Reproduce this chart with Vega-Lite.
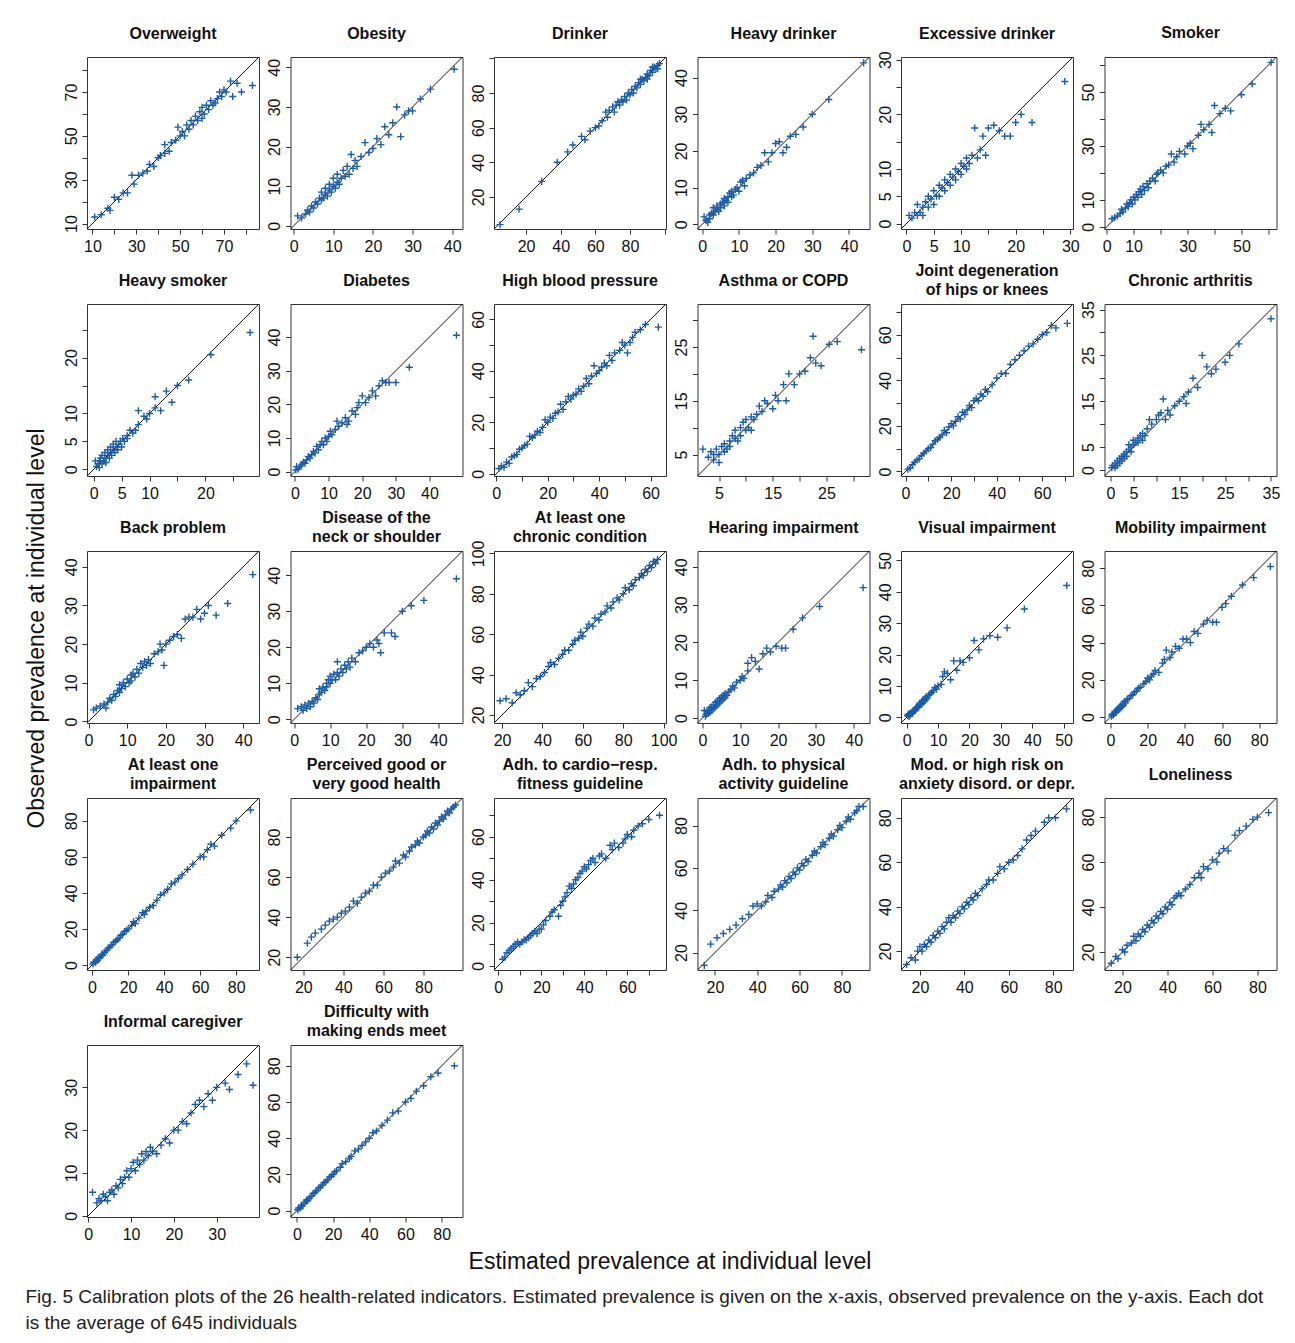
{
"$schema":"https://vega.github.io/schema/vega-lite/v6.json",
"padding":{"left":25,"top":24,"right":0,"bottom":0},
"background":"white",
"title":{"text":["Fig. 5  Calibration plots of the 26 health-related indicators. Estimated prevalence is given on the x-axis, observed prevalence on the y-axis. Each dot","is the average of 645 individuals"],"orient":"bottom","anchor":"start","frame":"bounds","baseline":"top","fontSize":19,"fontWeight":"normal","font":"Liberation Sans","lineHeight":26,"offset":14,"color":"#222"},
"vconcat":[{
"title":{"text":"Estimated prevalence at individual level","orient":"bottom","anchor":"middle","frame":"bounds","baseline":"top","fontSize":23,"fontWeight":"normal","font":"Liberation Sans","offset":8,"dx":17,"color":"#111"},
"hconcat":[{
"title":{"text":"Observed prevalence at individual level","orient":"left","anchor":"middle","frame":"bounds","fontSize":23,"fontWeight":"normal","font":"Liberation Sans","offset":14,"dx":5,"color":"#111"},
"columns":6,"spacing":{"row":75,"column":31.5},"bounds":"flush",
"concat":[
{"title":{"text":"Overweight","offset":-1,"baseline":"bottom"},"layer":[{"data":{"values":[{}]},"mark":{"type":"rule","color":"#111","strokeWidth":1},"encoding":{"x":{"datum":7.5,"type":"quantitative","title":null},"y":{"datum":7.5,"type":"quantitative","title":null},"x2":{"datum":86},"y2":{"datum":86}}},{"data":{"name":"pts"},"transform":[{"filter":"datum.p==1"}],"mark":"point","encoding":{"x":{"field":"x","type":"quantitative","title":null,"scale":{"domain":[7.5,86],"nice":false,"zero":false},"axis":{"tickCount":20,"labelOverlap":false,"values":[10,20,30,40,50,60,70,80],"labelExpr":"indexof([10,30,50,70],datum.value)>=0?datum.label:''"}},"y":{"field":"y","type":"quantitative","title":null,"scale":{"domain":[7.5,86],"nice":false,"zero":false},"axis":{"tickCount":20,"labelOverlap":false,"values":[10,20,30,40,50,60,70,80],"labelExpr":"indexof([10,30,50,70],datum.value)>=0?datum.label:''"}}}}]},
{"title":{"text":"Obesity","offset":-1,"baseline":"bottom"},"layer":[{"data":{"values":[{}]},"mark":{"type":"rule","color":"#111","strokeWidth":1},"encoding":{"x":{"datum":-0.8,"type":"quantitative","title":null},"y":{"datum":-0.8,"type":"quantitative","title":null},"x2":{"datum":42.6},"y2":{"datum":42.6}}},{"data":{"name":"pts"},"transform":[{"filter":"datum.p==2"}],"mark":"point","encoding":{"x":{"field":"x","type":"quantitative","title":null,"scale":{"domain":[-0.8,42.6],"nice":false,"zero":false},"axis":{"tickCount":20,"labelOverlap":false,"values":[0,10,20,30,40]}},"y":{"field":"y","type":"quantitative","title":null,"scale":{"domain":[-0.8,42.6],"nice":false,"zero":false},"axis":{"tickCount":20,"labelOverlap":false,"values":[0,10,20,30,40]}}}}]},
{"title":{"text":"Drinker","offset":-1,"baseline":"bottom"},"layer":[{"data":{"values":[{}]},"mark":{"type":"rule","color":"#111","strokeWidth":1},"encoding":{"x":{"datum":1.5,"type":"quantitative","title":null},"y":{"datum":1.5,"type":"quantitative","title":null},"x2":{"datum":100.8},"y2":{"datum":100.8}}},{"data":{"name":"pts"},"transform":[{"filter":"datum.p==3"}],"mark":"point","encoding":{"x":{"field":"x","type":"quantitative","title":null,"scale":{"domain":[1.5,100.8],"nice":false,"zero":false},"axis":{"tickCount":20,"labelOverlap":false,"values":[20,40,60,80,100],"labelExpr":"datum.value<100?datum.label:''"}},"y":{"field":"y","type":"quantitative","title":null,"scale":{"domain":[1.5,100.8],"nice":false,"zero":false},"axis":{"tickCount":20,"labelOverlap":false,"values":[20,40,60,80,100],"labelExpr":"datum.value<100?datum.label:''"}}}}]},
{"title":{"text":"Heavy drinker","offset":-1,"baseline":"bottom"},"layer":[{"data":{"values":[{}]},"mark":{"type":"rule","color":"#111","strokeWidth":1},"encoding":{"x":{"datum":-1.3,"type":"quantitative","title":null},"y":{"datum":-1.3,"type":"quantitative","title":null},"x2":{"datum":45.6},"y2":{"datum":45.6}}},{"data":{"name":"pts"},"transform":[{"filter":"datum.p==4"}],"mark":"point","encoding":{"x":{"field":"x","type":"quantitative","title":null,"scale":{"domain":[-1.3,45.6],"nice":false,"zero":false},"axis":{"tickCount":20,"labelOverlap":false,"values":[0,10,20,30,40]}},"y":{"field":"y","type":"quantitative","title":null,"scale":{"domain":[-1.3,45.6],"nice":false,"zero":false},"axis":{"tickCount":20,"labelOverlap":false,"values":[0,10,20,30,40]}}}}]},
{"title":{"text":"Excessive drinker","offset":-7.2,"baseline":"bottom"},"layer":[{"data":{"values":[{}]},"mark":{"type":"rule","color":"#111","strokeWidth":1},"encoding":{"x":{"datum":-1,"type":"quantitative","title":null},"y":{"datum":-1,"type":"quantitative","title":null},"x2":{"datum":30.5},"y2":{"datum":30.5}}},{"data":{"name":"pts"},"transform":[{"filter":"datum.p==5"}],"mark":"point","encoding":{"x":{"field":"x","type":"quantitative","title":null,"scale":{"domain":[-1,30.5],"nice":false,"zero":false},"axis":{"tickCount":20,"labelOverlap":false,"values":[0,5,10,15,20,25,30],"labelExpr":"indexof([0,5,10,20,30],datum.value)>=0?datum.label:''"}},"y":{"field":"y","type":"quantitative","title":null,"scale":{"domain":[-1,30.5],"nice":false,"zero":false},"axis":{"tickCount":20,"labelOverlap":false,"values":[0,5,10,15,20,25,30],"labelExpr":"indexof([0,5,10,20,30],datum.value)>=0?datum.label:''"}}}}]},
{"title":{"text":"Smoker","offset":-1,"baseline":"bottom"},"layer":[{"data":{"values":[{}]},"mark":{"type":"rule","color":"#111","strokeWidth":1},"encoding":{"x":{"datum":-0.8,"type":"quantitative","title":null},"y":{"datum":-0.8,"type":"quantitative","title":null},"x2":{"datum":63},"y2":{"datum":63}}},{"data":{"name":"pts"},"transform":[{"filter":"datum.p==6"}],"mark":"point","encoding":{"x":{"field":"x","type":"quantitative","title":null,"scale":{"domain":[-0.8,63],"nice":false,"zero":false},"axis":{"tickCount":20,"labelOverlap":false,"values":[0,10,20,30,40,50,60],"labelExpr":"indexof([0,10,30,50],datum.value)>=0?datum.label:''"}},"y":{"field":"y","type":"quantitative","title":null,"scale":{"domain":[-0.8,63],"nice":false,"zero":false},"axis":{"tickCount":20,"labelOverlap":false,"values":[0,10,20,30,40,50,60],"labelExpr":"indexof([0,10,30,50],datum.value)>=0?datum.label:''"}}}}]},
{"title":{"text":"Heavy smoker","offset":-1,"baseline":"bottom"},"layer":[{"data":{"values":[{}]},"mark":{"type":"rule","color":"#111","strokeWidth":1},"encoding":{"x":{"datum":-1.2,"type":"quantitative","title":null},"y":{"datum":-1.2,"type":"quantitative","title":null},"x2":{"datum":29.6},"y2":{"datum":29.6}}},{"data":{"name":"pts"},"transform":[{"filter":"datum.p==7"}],"mark":"point","encoding":{"x":{"field":"x","type":"quantitative","title":null,"scale":{"domain":[-1.2,29.6],"nice":false,"zero":false},"axis":{"tickCount":20,"labelOverlap":false,"values":[0,5,10,15,20,25],"labelExpr":"indexof([0,5,10,20],datum.value)>=0?datum.label:''"}},"y":{"field":"y","type":"quantitative","title":null,"scale":{"domain":[-1.2,29.6],"nice":false,"zero":false},"axis":{"tickCount":20,"labelOverlap":false,"values":[0,5,10,15,20,25],"labelExpr":"indexof([0,5,10,20],datum.value)>=0?datum.label:''"}}}}]},
{"title":{"text":"Diabetes","offset":-1,"baseline":"bottom"},"layer":[{"data":{"values":[{}]},"mark":{"type":"rule","color":"#111","strokeWidth":1},"encoding":{"x":{"datum":-1.3,"type":"quantitative","title":null},"y":{"datum":-1.3,"type":"quantitative","title":null},"x2":{"datum":49.8},"y2":{"datum":49.8}}},{"data":{"name":"pts"},"transform":[{"filter":"datum.p==8"}],"mark":"point","encoding":{"x":{"field":"x","type":"quantitative","title":null,"scale":{"domain":[-1.3,49.8],"nice":false,"zero":false},"axis":{"tickCount":20,"labelOverlap":false,"values":[0,10,20,30,40]}},"y":{"field":"y","type":"quantitative","title":null,"scale":{"domain":[-1.3,49.8],"nice":false,"zero":false},"axis":{"tickCount":20,"labelOverlap":false,"values":[0,10,20,30,40]}}}}]},
{"title":{"text":"High blood pressure","offset":-1,"baseline":"bottom"},"layer":[{"data":{"values":[{}]},"mark":{"type":"rule","color":"#111","strokeWidth":1},"encoding":{"x":{"datum":-0.9,"type":"quantitative","title":null},"y":{"datum":-0.9,"type":"quantitative","title":null},"x2":{"datum":66},"y2":{"datum":66}}},{"data":{"name":"pts"},"transform":[{"filter":"datum.p==9"}],"mark":"point","encoding":{"x":{"field":"x","type":"quantitative","title":null,"scale":{"domain":[-0.9,66],"nice":false,"zero":false},"axis":{"tickCount":20,"labelOverlap":false,"values":[0,10,20,30,40,50,60],"labelExpr":"indexof([0,20,40,60],datum.value)>=0?datum.label:''"}},"y":{"field":"y","type":"quantitative","title":null,"scale":{"domain":[-0.9,66],"nice":false,"zero":false},"axis":{"tickCount":20,"labelOverlap":false,"values":[0,10,20,30,40,50,60],"labelExpr":"indexof([0,20,40,60],datum.value)>=0?datum.label:''"}}}}]},
{"title":{"text":"Asthma or COPD","offset":-1,"baseline":"bottom"},"layer":[{"data":{"values":[{}]},"mark":{"type":"rule","color":"#111","strokeWidth":1},"encoding":{"x":{"datum":1,"type":"quantitative","title":null},"y":{"datum":1,"type":"quantitative","title":null},"x2":{"datum":33},"y2":{"datum":33}}},{"data":{"name":"pts"},"transform":[{"filter":"datum.p==10"}],"mark":"point","encoding":{"x":{"field":"x","type":"quantitative","title":null,"scale":{"domain":[1,33],"nice":false,"zero":false},"axis":{"tickCount":20,"labelOverlap":false,"values":[5,10,15,20,25,30],"labelExpr":"indexof([5,15,25],datum.value)>=0?datum.label:''"}},"y":{"field":"y","type":"quantitative","title":null,"scale":{"domain":[1,33],"nice":false,"zero":false},"axis":{"tickCount":20,"labelOverlap":false,"values":[5,10,15,20,25,30],"labelExpr":"indexof([5,15,25],datum.value)>=0?datum.label:''"}}}}]},
{"title":{"text":["Joint degeneration","of hips or knees"],"offset":-10,"baseline":"bottom"},"layer":[{"data":{"values":[{}]},"mark":{"type":"rule","color":"#111","strokeWidth":1},"encoding":{"x":{"datum":-2,"type":"quantitative","title":null},"y":{"datum":-2,"type":"quantitative","title":null},"x2":{"datum":73.5},"y2":{"datum":73.5}}},{"data":{"name":"pts"},"transform":[{"filter":"datum.p==11"}],"mark":"point","encoding":{"x":{"field":"x","type":"quantitative","title":null,"scale":{"domain":[-2,73.5],"nice":false,"zero":false},"axis":{"tickCount":20,"labelOverlap":false,"values":[0,10,20,30,40,50,60,70],"labelExpr":"indexof([0,20,40,60],datum.value)>=0?datum.label:''"}},"y":{"field":"y","type":"quantitative","title":null,"scale":{"domain":[-2,73.5],"nice":false,"zero":false},"axis":{"tickCount":20,"labelOverlap":false,"values":[0,10,20,30,40,50,60,70],"labelExpr":"indexof([0,20,40,60],datum.value)>=0?datum.label:''"}}}}]},
{"title":{"text":"Chronic arthritis","offset":-4.4,"baseline":"bottom"},"layer":[{"data":{"values":[{}]},"mark":{"type":"rule","color":"#111","strokeWidth":1},"encoding":{"x":{"datum":-1.3,"type":"quantitative","title":null},"y":{"datum":-1.3,"type":"quantitative","title":null},"x2":{"datum":36.2},"y2":{"datum":36.2}}},{"data":{"name":"pts"},"transform":[{"filter":"datum.p==12"}],"mark":"point","encoding":{"x":{"field":"x","type":"quantitative","title":null,"scale":{"domain":[-1.3,36.2],"nice":false,"zero":false},"axis":{"tickCount":20,"labelOverlap":false,"values":[0,5,10,15,20,25,30,35],"labelExpr":"indexof([0,5,15,25,35],datum.value)>=0?datum.label:''"}},"y":{"field":"y","type":"quantitative","title":null,"scale":{"domain":[-1.3,36.2],"nice":false,"zero":false},"axis":{"tickCount":20,"labelOverlap":false,"values":[0,5,10,15,20,25,30,35],"labelExpr":"indexof([0,5,15,25,35],datum.value)>=0?datum.label:''"}}}}]},
{"title":{"text":"Back problem","offset":-1,"baseline":"bottom"},"layer":[{"data":{"values":[{}]},"mark":{"type":"rule","color":"#111","strokeWidth":1},"encoding":{"x":{"datum":-0.4,"type":"quantitative","title":null},"y":{"datum":-0.4,"type":"quantitative","title":null},"x2":{"datum":44.1},"y2":{"datum":44.1}}},{"data":{"name":"pts"},"transform":[{"filter":"datum.p==13"}],"mark":"point","encoding":{"x":{"field":"x","type":"quantitative","title":null,"scale":{"domain":[-0.4,44.1],"nice":false,"zero":false},"axis":{"tickCount":20,"labelOverlap":false,"values":[0,10,20,30,40]}},"y":{"field":"y","type":"quantitative","title":null,"scale":{"domain":[-0.4,44.1],"nice":false,"zero":false},"axis":{"tickCount":20,"labelOverlap":false,"values":[0,10,20,30,40]}}}}]},
{"title":{"text":["Disease of the","neck or shoulder"],"offset":-10,"baseline":"bottom"},"layer":[{"data":{"values":[{}]},"mark":{"type":"rule","color":"#111","strokeWidth":1},"encoding":{"x":{"datum":-1,"type":"quantitative","title":null},"y":{"datum":-1,"type":"quantitative","title":null},"x2":{"datum":46.7},"y2":{"datum":46.7}}},{"data":{"name":"pts"},"transform":[{"filter":"datum.p==14"}],"mark":"point","encoding":{"x":{"field":"x","type":"quantitative","title":null,"scale":{"domain":[-1,46.7],"nice":false,"zero":false},"axis":{"tickCount":20,"labelOverlap":false,"values":[0,10,20,30,40]}},"y":{"field":"y","type":"quantitative","title":null,"scale":{"domain":[-1,46.7],"nice":false,"zero":false},"axis":{"tickCount":20,"labelOverlap":false,"values":[0,10,20,30,40]}}}}]},
{"title":{"text":["At least one","chronic condition"],"offset":-20.9,"baseline":"bottom"},"layer":[{"data":{"values":[{}]},"mark":{"type":"rule","color":"#111","strokeWidth":1},"encoding":{"x":{"datum":16,"type":"quantitative","title":null},"y":{"datum":16,"type":"quantitative","title":null},"x2":{"datum":101.2},"y2":{"datum":101.2}}},{"data":{"name":"pts"},"transform":[{"filter":"datum.p==15"}],"mark":"point","encoding":{"x":{"field":"x","type":"quantitative","title":null,"scale":{"domain":[16,101.2],"nice":false,"zero":false},"axis":{"tickCount":20,"labelOverlap":false,"values":[20,40,60,80,100]}},"y":{"field":"y","type":"quantitative","title":null,"scale":{"domain":[16,101.2],"nice":false,"zero":false},"axis":{"tickCount":20,"labelOverlap":false,"values":[20,40,60,80,100]}}}}]},
{"title":{"text":"Hearing impairment","offset":-1,"baseline":"bottom"},"layer":[{"data":{"values":[{}]},"mark":{"type":"rule","color":"#111","strokeWidth":1},"encoding":{"x":{"datum":-1.3,"type":"quantitative","title":null},"y":{"datum":-1.3,"type":"quantitative","title":null},"x2":{"datum":44.2},"y2":{"datum":44.2}}},{"data":{"name":"pts"},"transform":[{"filter":"datum.p==16"}],"mark":"point","encoding":{"x":{"field":"x","type":"quantitative","title":null,"scale":{"domain":[-1.3,44.2],"nice":false,"zero":false},"axis":{"tickCount":20,"labelOverlap":false,"values":[0,10,20,30,40]}},"y":{"field":"y","type":"quantitative","title":null,"scale":{"domain":[-1.3,44.2],"nice":false,"zero":false},"axis":{"tickCount":20,"labelOverlap":false,"values":[0,10,20,30,40]}}}}]},
{"title":{"text":"Visual impairment","offset":-1,"baseline":"bottom"},"layer":[{"data":{"values":[{}]},"mark":{"type":"rule","color":"#111","strokeWidth":1},"encoding":{"x":{"datum":-1.8,"type":"quantitative","title":null},"y":{"datum":-1.8,"type":"quantitative","title":null},"x2":{"datum":53},"y2":{"datum":53}}},{"data":{"name":"pts"},"transform":[{"filter":"datum.p==17"}],"mark":"point","encoding":{"x":{"field":"x","type":"quantitative","title":null,"scale":{"domain":[-1.8,53],"nice":false,"zero":false},"axis":{"tickCount":20,"labelOverlap":false,"values":[0,10,20,30,40,50]}},"y":{"field":"y","type":"quantitative","title":null,"scale":{"domain":[-1.8,53],"nice":false,"zero":false},"axis":{"tickCount":20,"labelOverlap":false,"values":[0,10,20,30,40,50]}}}}]},
{"title":{"text":"Mobility impairment","offset":-1,"baseline":"bottom"},"layer":[{"data":{"values":[{}]},"mark":{"type":"rule","color":"#111","strokeWidth":1},"encoding":{"x":{"datum":-3.2,"type":"quantitative","title":null},"y":{"datum":-3.2,"type":"quantitative","title":null},"x2":{"datum":89.3},"y2":{"datum":89.3}}},{"data":{"name":"pts"},"transform":[{"filter":"datum.p==18"}],"mark":"point","encoding":{"x":{"field":"x","type":"quantitative","title":null,"scale":{"domain":[-3.2,89.3],"nice":false,"zero":false},"axis":{"tickCount":20,"labelOverlap":false,"values":[0,20,40,60,80]}},"y":{"field":"y","type":"quantitative","title":null,"scale":{"domain":[-3.2,89.3],"nice":false,"zero":false},"axis":{"tickCount":20,"labelOverlap":false,"values":[0,20,40,60,80]}}}}]},
{"title":{"text":["At least one","impairment"],"offset":-10,"baseline":"bottom"},"layer":[{"data":{"values":[{}]},"mark":{"type":"rule","color":"#111","strokeWidth":1},"encoding":{"x":{"datum":-2.8,"type":"quantitative","title":null},"y":{"datum":-2.8,"type":"quantitative","title":null},"x2":{"datum":92.7},"y2":{"datum":92.7}}},{"data":{"name":"pts"},"transform":[{"filter":"datum.p==19"}],"mark":"point","encoding":{"x":{"field":"x","type":"quantitative","title":null,"scale":{"domain":[-2.8,92.7],"nice":false,"zero":false},"axis":{"tickCount":20,"labelOverlap":false,"values":[0,20,40,60,80]}},"y":{"field":"y","type":"quantitative","title":null,"scale":{"domain":[-2.8,92.7],"nice":false,"zero":false},"axis":{"tickCount":20,"labelOverlap":false,"values":[0,20,40,60,80]}}}}]},
{"title":{"text":["Perceived good or","very good health"],"offset":-10,"baseline":"bottom"},"layer":[{"data":{"values":[{}]},"mark":{"type":"rule","color":"#111","strokeWidth":1},"encoding":{"x":{"datum":13.6,"type":"quantitative","title":null},"y":{"datum":13.6,"type":"quantitative","title":null},"x2":{"datum":99.5},"y2":{"datum":99.5}}},{"data":{"name":"pts"},"transform":[{"filter":"datum.p==20"}],"mark":"point","encoding":{"x":{"field":"x","type":"quantitative","title":null,"scale":{"domain":[13.6,99.5],"nice":false,"zero":false},"axis":{"tickCount":20,"labelOverlap":false,"values":[20,40,60,80]}},"y":{"field":"y","type":"quantitative","title":null,"scale":{"domain":[13.6,99.5],"nice":false,"zero":false},"axis":{"tickCount":20,"labelOverlap":false,"values":[20,40,60,80]}}}}]},
{"title":{"text":["Adh. to cardio−resp.","fitness guideline"],"offset":-10,"baseline":"bottom"},"layer":[{"data":{"values":[{}]},"mark":{"type":"rule","color":"#111","strokeWidth":1},"encoding":{"x":{"datum":-2,"type":"quantitative","title":null},"y":{"datum":-2,"type":"quantitative","title":null},"x2":{"datum":78},"y2":{"datum":78}}},{"data":{"name":"pts"},"transform":[{"filter":"datum.p==21"}],"mark":"point","encoding":{"x":{"field":"x","type":"quantitative","title":null,"scale":{"domain":[-2,78],"nice":false,"zero":false},"axis":{"tickCount":20,"labelOverlap":false,"values":[0,10,20,30,40,50,60,70],"labelExpr":"indexof([0,20,40,60],datum.value)>=0?datum.label:''"}},"y":{"field":"y","type":"quantitative","title":null,"scale":{"domain":[-2,78],"nice":false,"zero":false},"axis":{"tickCount":20,"labelOverlap":false,"values":[0,10,20,30,40,50,60,70],"labelExpr":"indexof([0,20,40,60],datum.value)>=0?datum.label:''"}}}}]},
{"title":{"text":["Adh. to physical","activity guideline"],"offset":-10,"baseline":"bottom"},"layer":[{"data":{"values":[{}]},"mark":{"type":"rule","color":"#111","strokeWidth":1},"encoding":{"x":{"datum":11.8,"type":"quantitative","title":null},"y":{"datum":11.8,"type":"quantitative","title":null},"x2":{"datum":93},"y2":{"datum":93}}},{"data":{"name":"pts"},"transform":[{"filter":"datum.p==22"}],"mark":"point","encoding":{"x":{"field":"x","type":"quantitative","title":null,"scale":{"domain":[11.8,93],"nice":false,"zero":false},"axis":{"tickCount":20,"labelOverlap":false,"values":[20,40,60,80]}},"y":{"field":"y","type":"quantitative","title":null,"scale":{"domain":[11.8,93],"nice":false,"zero":false},"axis":{"tickCount":20,"labelOverlap":false,"values":[20,40,60,80]}}}}]},
{"title":{"text":["Mod. or high risk on","anxiety disord. or depr."],"offset":-10,"baseline":"bottom"},"layer":[{"data":{"values":[{}]},"mark":{"type":"rule","color":"#111","strokeWidth":1},"encoding":{"x":{"datum":11.5,"type":"quantitative","title":null},"y":{"datum":11.5,"type":"quantitative","title":null},"x2":{"datum":88.9},"y2":{"datum":88.9}}},{"data":{"name":"pts"},"transform":[{"filter":"datum.p==23"}],"mark":"point","encoding":{"x":{"field":"x","type":"quantitative","title":null,"scale":{"domain":[11.5,88.9],"nice":false,"zero":false},"axis":{"tickCount":20,"labelOverlap":false,"values":[20,40,60,80]}},"y":{"field":"y","type":"quantitative","title":null,"scale":{"domain":[11.5,88.9],"nice":false,"zero":false},"axis":{"tickCount":20,"labelOverlap":false,"values":[20,40,60,80]}}}}]},
{"title":{"text":"Loneliness","offset":-1,"baseline":"bottom"},"layer":[{"data":{"values":[{}]},"mark":{"type":"rule","color":"#111","strokeWidth":1},"encoding":{"x":{"datum":12,"type":"quantitative","title":null},"y":{"datum":12,"type":"quantitative","title":null},"x2":{"datum":88.5},"y2":{"datum":88.5}}},{"data":{"name":"pts"},"transform":[{"filter":"datum.p==24"}],"mark":"point","encoding":{"x":{"field":"x","type":"quantitative","title":null,"scale":{"domain":[12,88.5],"nice":false,"zero":false},"axis":{"tickCount":20,"labelOverlap":false,"values":[20,40,60,80]}},"y":{"field":"y","type":"quantitative","title":null,"scale":{"domain":[12,88.5],"nice":false,"zero":false},"axis":{"tickCount":20,"labelOverlap":false,"values":[20,40,60,80]}}}}]},
{"title":{"text":"Informal caregiver","offset":-1,"baseline":"bottom"},"layer":[{"data":{"values":[{}]},"mark":{"type":"rule","color":"#111","strokeWidth":1},"encoding":{"x":{"datum":-0.3,"type":"quantitative","title":null},"y":{"datum":-0.3,"type":"quantitative","title":null},"x2":{"datum":39.9},"y2":{"datum":39.9}}},{"data":{"name":"pts"},"transform":[{"filter":"datum.p==25"}],"mark":"point","encoding":{"x":{"field":"x","type":"quantitative","title":null,"scale":{"domain":[-0.3,39.9],"nice":false,"zero":false},"axis":{"tickCount":20,"labelOverlap":false,"values":[0,10,20,30]}},"y":{"field":"y","type":"quantitative","title":null,"scale":{"domain":[-0.3,39.9],"nice":false,"zero":false},"axis":{"tickCount":20,"labelOverlap":false,"values":[0,10,20,30]}}}}]},
{"title":{"text":["Difficulty with","making ends meet"],"offset":-10,"baseline":"bottom"},"layer":[{"data":{"values":[{}]},"mark":{"type":"rule","color":"#111","strokeWidth":1},"encoding":{"x":{"datum":-3.5,"type":"quantitative","title":null},"y":{"datum":-3.5,"type":"quantitative","title":null},"x2":{"datum":91.5},"y2":{"datum":91.5}}},{"data":{"name":"pts"},"transform":[{"filter":"datum.p==26"}],"mark":"point","encoding":{"x":{"field":"x","type":"quantitative","title":null,"scale":{"domain":[-3.5,91.5],"nice":false,"zero":false},"axis":{"tickCount":20,"labelOverlap":false,"values":[0,20,40,60,80]}},"y":{"field":"y","type":"quantitative","title":null,"scale":{"domain":[-3.5,91.5],"nice":false,"zero":false},"axis":{"tickCount":20,"labelOverlap":false,"values":[0,20,40,60,80]}}}}]}
]
}]
}],
"datasets":{"pts":[
{"p":1,"x":11,"y":13},{"p":1,"x":14,"y":14},{"p":1,"x":17,"y":17},{"p":1,"x":18,"y":16},{"p":1,"x":20,"y":22},{"p":1,"x":22,"y":21},{"p":1,"x":24,"y":24},{"p":1,"x":26,"y":24},{"p":1,"x":28,"y":32},{"p":1,"x":29,"y":28},{"p":1,"x":31,"y":32},{"p":1,"x":33,"y":33},{"p":1,"x":35,"y":34},{"p":1,"x":36,"y":37},{"p":1,"x":38,"y":36},{"p":1,"x":40,"y":40},{"p":1,"x":41,"y":41},{"p":1,"x":43,"y":42},{"p":1,"x":43,"y":46},{"p":1,"x":45,"y":43},{"p":1,"x":46,"y":47},{"p":1,"x":48,"y":48},{"p":1,"x":49,"y":54},{"p":1,"x":50,"y":50},{"p":1,"x":51,"y":52},{"p":1,"x":52,"y":50},{"p":1,"x":53,"y":55},{"p":1,"x":54,"y":53},{"p":1,"x":55,"y":57},{"p":1,"x":56,"y":55},{"p":1,"x":57,"y":59},{"p":1,"x":58,"y":57},{"p":1,"x":59,"y":61},{"p":1,"x":60,"y":58},{"p":1,"x":60,"y":63},{"p":1,"x":61,"y":60},{"p":1,"x":62,"y":64},{"p":1,"x":63,"y":62},{"p":1,"x":64,"y":66},{"p":1,"x":65,"y":64},{"p":1,"x":66,"y":65},{"p":1,"x":67,"y":67},{"p":1,"x":68,"y":70},{"p":1,"x":69,"y":68},{"p":1,"x":70,"y":71},{"p":1,"x":71,"y":70},{"p":1,"x":73,"y":75},{"p":1,"x":74,"y":68},{"p":1,"x":76,"y":74},{"p":1,"x":78,"y":70},{"p":1,"x":83,"y":73},
{"p":2,"x":1,"y":2.5},{"p":2,"x":2,"y":2},{"p":2,"x":3,"y":3},{"p":2,"x":3.5,"y":4},{"p":2,"x":4,"y":3.5},{"p":2,"x":4.5,"y":5},{"p":2,"x":5,"y":4.5},{"p":2,"x":5.5,"y":6},{"p":2,"x":6,"y":5.5},{"p":2,"x":6.5,"y":7},{"p":2,"x":7,"y":6.5},{"p":2,"x":7,"y":8.5},{"p":2,"x":7.5,"y":7},{"p":2,"x":8,"y":8},{"p":2,"x":8,"y":9.5},{"p":2,"x":8.5,"y":7.5},{"p":2,"x":9,"y":9},{"p":2,"x":9,"y":10.5},{"p":2,"x":9.5,"y":8.5},{"p":2,"x":10,"y":10},{"p":2,"x":10,"y":12},{"p":2,"x":10.5,"y":9.5},{"p":2,"x":11,"y":11},{"p":2,"x":11,"y":13},{"p":2,"x":11.5,"y":10.5},{"p":2,"x":12,"y":12},{"p":2,"x":12.5,"y":14},{"p":2,"x":13,"y":12.5},{"p":2,"x":13.5,"y":15},{"p":2,"x":14,"y":13},{"p":2,"x":14.5,"y":18},{"p":2,"x":15,"y":14.5},{"p":2,"x":15.5,"y":16.5},{"p":2,"x":16,"y":15},{"p":2,"x":17,"y":17.5},{"p":2,"x":18,"y":21},{"p":2,"x":19,"y":18.5},{"p":2,"x":20,"y":19.5},{"p":2,"x":21,"y":22},{"p":2,"x":22,"y":20.5},{"p":2,"x":23,"y":25},{"p":2,"x":24,"y":23},{"p":2,"x":25,"y":26},{"p":2,"x":26,"y":30},{"p":2,"x":27,"y":22.5},{"p":2,"x":28,"y":28},{"p":2,"x":29,"y":29},{"p":2,"x":30,"y":29},{"p":2,"x":32,"y":32},{"p":2,"x":34.5,"y":34.5},{"p":2,"x":40.5,"y":39.5},
{"p":3,"x":5,"y":4},{"p":3,"x":16,"y":13},{"p":3,"x":29,"y":29},{"p":3,"x":38,"y":40},{"p":3,"x":44,"y":46},{"p":3,"x":47,"y":50},{"p":3,"x":52,"y":55},{"p":3,"x":54,"y":53},{"p":3,"x":57,"y":58},{"p":3,"x":60,"y":60},{"p":3,"x":62,"y":61},{"p":3,"x":64,"y":64},{"p":3,"x":66,"y":69},{"p":3,"x":67,"y":66},{"p":3,"x":68,"y":70},{"p":3,"x":70,"y":72},{"p":3,"x":71,"y":69},{"p":3,"x":72,"y":73},{"p":3,"x":73,"y":75},{"p":3,"x":74,"y":73},{"p":3,"x":75,"y":76},{"p":3,"x":76,"y":75},{"p":3,"x":77,"y":78},{"p":3,"x":78,"y":76},{"p":3,"x":79,"y":80},{"p":3,"x":80,"y":79},{"p":3,"x":81,"y":82},{"p":3,"x":82,"y":80},{"p":3,"x":83,"y":84},{"p":3,"x":84,"y":83},{"p":3,"x":85,"y":86},{"p":3,"x":86,"y":85},{"p":3,"x":87,"y":88},{"p":3,"x":88,"y":87},{"p":3,"x":89,"y":89},{"p":3,"x":90,"y":91},{"p":3,"x":91,"y":90},{"p":3,"x":92,"y":93},{"p":3,"x":93,"y":92},{"p":3,"x":94,"y":95},{"p":3,"x":95,"y":94},{"p":3,"x":96,"y":96},{"p":3,"x":97,"y":97},{"p":3,"x":96,"y":94},{"p":3,"x":93,"y":95},{"p":3,"x":90,"y":88},{"p":3,"x":86,"y":88},
{"p":4,"x":0.5,"y":2},{"p":4,"x":1,"y":1},{"p":4,"x":1.5,"y":0.5},{"p":4,"x":2,"y":2.5},{"p":4,"x":2,"y":1.5},{"p":4,"x":2.5,"y":3},{"p":4,"x":3,"y":2.5},{"p":4,"x":3,"y":4.5},{"p":4,"x":3.5,"y":3.5},{"p":4,"x":4,"y":4},{"p":4,"x":4,"y":5},{"p":4,"x":4.5,"y":3.5},{"p":4,"x":5,"y":5.5},{"p":4,"x":5,"y":4.5},{"p":4,"x":5.5,"y":6},{"p":4,"x":6,"y":5},{"p":4,"x":6,"y":7},{"p":4,"x":6.5,"y":6.5},{"p":4,"x":7,"y":7.5},{"p":4,"x":7,"y":6},{"p":4,"x":7.5,"y":8.5},{"p":4,"x":8,"y":7.5},{"p":4,"x":8,"y":9},{"p":4,"x":8.5,"y":8},{"p":4,"x":9,"y":9.5},{"p":4,"x":9.5,"y":10},{"p":4,"x":10,"y":9},{"p":4,"x":10.5,"y":11.5},{"p":4,"x":11,"y":12},{"p":4,"x":11.5,"y":10.5},{"p":4,"x":12,"y":12.5},{"p":4,"x":13,"y":13.5},{"p":4,"x":14,"y":14},{"p":4,"x":15,"y":15.5},{"p":4,"x":16,"y":16},{"p":4,"x":17,"y":19.5},{"p":4,"x":18,"y":17},{"p":4,"x":19,"y":19.5},{"p":4,"x":20,"y":22},{"p":4,"x":21,"y":22.5},{"p":4,"x":22,"y":19.5},{"p":4,"x":23,"y":21},{"p":4,"x":24,"y":24},{"p":4,"x":25.5,"y":24.5},{"p":4,"x":27.5,"y":26.5},{"p":4,"x":30,"y":30},{"p":4,"x":34.5,"y":34},{"p":4,"x":44,"y":44},
{"p":5,"x":0.5,"y":1.5},{"p":5,"x":1,"y":1},{"p":5,"x":1.5,"y":2},{"p":5,"x":2,"y":1.5},{"p":5,"x":2,"y":3.5},{"p":5,"x":2.5,"y":2},{"p":5,"x":3,"y":3},{"p":5,"x":3,"y":1.5},{"p":5,"x":3.5,"y":4},{"p":5,"x":4,"y":3},{"p":5,"x":4,"y":5},{"p":5,"x":4.5,"y":4.5},{"p":5,"x":5,"y":6},{"p":5,"x":5,"y":3.5},{"p":5,"x":5.5,"y":5},{"p":5,"x":6,"y":7},{"p":5,"x":6,"y":5},{"p":5,"x":6.5,"y":6.5},{"p":5,"x":7,"y":8},{"p":5,"x":7,"y":6},{"p":5,"x":7.5,"y":7.5},{"p":5,"x":8,"y":9},{"p":5,"x":8,"y":7},{"p":5,"x":8.5,"y":8.5},{"p":5,"x":9,"y":10},{"p":5,"x":9,"y":8},{"p":5,"x":9.5,"y":9.5},{"p":5,"x":10,"y":11},{"p":5,"x":10,"y":9},{"p":5,"x":10.5,"y":10.5},{"p":5,"x":11,"y":12},{"p":5,"x":11,"y":10},{"p":5,"x":11.5,"y":11},{"p":5,"x":12,"y":12.5},{"p":5,"x":12.5,"y":17.5},{"p":5,"x":13,"y":12},{"p":5,"x":13.5,"y":13.5},{"p":5,"x":14,"y":16},{"p":5,"x":14.5,"y":12.5},{"p":5,"x":15,"y":17.5},{"p":5,"x":16,"y":18},{"p":5,"x":17,"y":17},{"p":5,"x":18,"y":16},{"p":5,"x":19,"y":16},{"p":5,"x":20,"y":18.5},{"p":5,"x":21,"y":20},{"p":5,"x":23,"y":18.5},{"p":5,"x":29,"y":26},
{"p":6,"x":2,"y":3},{"p":6,"x":3,"y":3.5},{"p":6,"x":4,"y":4},{"p":6,"x":5,"y":5},{"p":6,"x":5.5,"y":6.5},{"p":6,"x":6,"y":5.5},{"p":6,"x":7,"y":7},{"p":6,"x":7.5,"y":8.5},{"p":6,"x":8,"y":7.5},{"p":6,"x":8.5,"y":9},{"p":6,"x":9,"y":10},{"p":6,"x":9.5,"y":8.5},{"p":6,"x":10,"y":11},{"p":6,"x":10.5,"y":10},{"p":6,"x":11,"y":12},{"p":6,"x":11.5,"y":11},{"p":6,"x":12,"y":13},{"p":6,"x":12.5,"y":14},{"p":6,"x":13,"y":12},{"p":6,"x":13.5,"y":15},{"p":6,"x":14,"y":13.5},{"p":6,"x":15,"y":16},{"p":6,"x":15.5,"y":14.5},{"p":6,"x":16,"y":17},{"p":6,"x":17,"y":18},{"p":6,"x":18,"y":17},{"p":6,"x":18.5,"y":19.5},{"p":6,"x":19,"y":20},{"p":6,"x":20,"y":21},{"p":6,"x":21,"y":20},{"p":6,"x":22,"y":22.5},{"p":6,"x":23,"y":23},{"p":6,"x":24,"y":27},{"p":6,"x":25,"y":24},{"p":6,"x":26,"y":26},{"p":6,"x":27,"y":28},{"p":6,"x":29,"y":27},{"p":6,"x":30,"y":30},{"p":6,"x":31,"y":31},{"p":6,"x":32,"y":29},{"p":6,"x":34,"y":34},{"p":6,"x":35,"y":38},{"p":6,"x":36,"y":36},{"p":6,"x":38,"y":38},{"p":6,"x":39,"y":35},{"p":6,"x":40,"y":45},{"p":6,"x":42,"y":42},{"p":6,"x":44,"y":44},{"p":6,"x":46,"y":43},{"p":6,"x":50,"y":49},{"p":6,"x":54,"y":53},{"p":6,"x":61,"y":61},
{"p":7,"x":0.3,"y":1.5},{"p":7,"x":0.5,"y":0.5},{"p":7,"x":0.8,"y":1},{"p":7,"x":1,"y":0.3},{"p":7,"x":1,"y":1.5},{"p":7,"x":1.2,"y":2},{"p":7,"x":1.5,"y":1},{"p":7,"x":1.5,"y":2.5},{"p":7,"x":1.8,"y":1.5},{"p":7,"x":2,"y":2},{"p":7,"x":2,"y":3},{"p":7,"x":2.2,"y":1.2},{"p":7,"x":2.5,"y":2.5},{"p":7,"x":2.5,"y":3.5},{"p":7,"x":2.8,"y":2},{"p":7,"x":3,"y":3},{"p":7,"x":3,"y":4},{"p":7,"x":3.2,"y":2.5},{"p":7,"x":3.5,"y":3.5},{"p":7,"x":3.5,"y":4.5},{"p":7,"x":3.8,"y":3},{"p":7,"x":4,"y":4},{"p":7,"x":4,"y":5},{"p":7,"x":4.3,"y":3.5},{"p":7,"x":4.5,"y":4.5},{"p":7,"x":4.8,"y":5},{"p":7,"x":5,"y":4},{"p":7,"x":5.2,"y":5.5},{"p":7,"x":5.5,"y":5},{"p":7,"x":6,"y":5.5},{"p":7,"x":6,"y":6},{"p":7,"x":6.5,"y":7},{"p":7,"x":7,"y":6.5},{"p":7,"x":7.5,"y":7},{"p":7,"x":8,"y":8},{"p":7,"x":8,"y":10.5},{"p":7,"x":9,"y":9.5},{"p":7,"x":9.5,"y":9},{"p":7,"x":10,"y":10},{"p":7,"x":11,"y":13},{"p":7,"x":11,"y":11},{"p":7,"x":12,"y":10.5},{"p":7,"x":13,"y":14},{"p":7,"x":14,"y":12},{"p":7,"x":15,"y":15},{"p":7,"x":17,"y":16},{"p":7,"x":21,"y":20.5},{"p":7,"x":28,"y":24.5},
{"p":8,"x":0.3,"y":0.5},{"p":8,"x":0.5,"y":1.5},{"p":8,"x":1,"y":0.8},{"p":8,"x":1.5,"y":1.5},{"p":8,"x":2,"y":2},{"p":8,"x":2.5,"y":2.8},{"p":8,"x":3,"y":2.5},{"p":8,"x":3.5,"y":3.5},{"p":8,"x":4,"y":4.5},{"p":8,"x":4.5,"y":4},{"p":8,"x":5,"y":5},{"p":8,"x":5.5,"y":6},{"p":8,"x":6,"y":5.5},{"p":8,"x":6.5,"y":7.5},{"p":8,"x":7,"y":6.5},{"p":8,"x":7.5,"y":8},{"p":8,"x":8,"y":9},{"p":8,"x":8.5,"y":8},{"p":8,"x":9,"y":10},{"p":8,"x":9.5,"y":9},{"p":8,"x":10,"y":10.5},{"p":8,"x":10.5,"y":12},{"p":8,"x":11,"y":11},{"p":8,"x":12,"y":12.5},{"p":8,"x":12.5,"y":15},{"p":8,"x":13,"y":13.5},{"p":8,"x":14,"y":14.5},{"p":8,"x":15,"y":16},{"p":8,"x":15.5,"y":14},{"p":8,"x":16,"y":15},{"p":8,"x":17,"y":18},{"p":8,"x":18,"y":17},{"p":8,"x":18.5,"y":19},{"p":8,"x":19,"y":20.5},{"p":8,"x":20,"y":22.5},{"p":8,"x":21,"y":20.5},{"p":8,"x":22,"y":22},{"p":8,"x":23,"y":24},{"p":8,"x":24,"y":22.5},{"p":8,"x":25,"y":25.5},{"p":8,"x":26,"y":27},{"p":8,"x":27,"y":26.5},{"p":8,"x":28,"y":26.5},{"p":8,"x":30,"y":26.5},{"p":8,"x":34,"y":31},{"p":8,"x":48,"y":40.5},
{"p":9,"x":1,"y":2},{"p":9,"x":2,"y":3},{"p":9,"x":3,"y":2.5},{"p":9,"x":4,"y":4.5},{"p":9,"x":5,"y":4},{"p":9,"x":6,"y":6.5},{"p":9,"x":7,"y":7},{"p":9,"x":8,"y":7.5},{"p":9,"x":9,"y":9.5},{"p":9,"x":10,"y":10},{"p":9,"x":11,"y":11},{"p":9,"x":12,"y":11.5},{"p":9,"x":13,"y":14.5},{"p":9,"x":14,"y":14},{"p":9,"x":15,"y":15},{"p":9,"x":16,"y":16.5},{"p":9,"x":17,"y":16},{"p":9,"x":18,"y":18},{"p":9,"x":19,"y":21},{"p":9,"x":20,"y":20},{"p":9,"x":21,"y":22},{"p":9,"x":22,"y":21.5},{"p":9,"x":23,"y":23.5},{"p":9,"x":24,"y":24},{"p":9,"x":25,"y":27},{"p":9,"x":26,"y":25},{"p":9,"x":27,"y":28},{"p":9,"x":28,"y":30},{"p":9,"x":29,"y":29},{"p":9,"x":30,"y":30.5},{"p":9,"x":31,"y":31},{"p":9,"x":32,"y":33},{"p":9,"x":33,"y":32},{"p":9,"x":34,"y":34},{"p":9,"x":35,"y":37},{"p":9,"x":36,"y":35},{"p":9,"x":37,"y":38},{"p":9,"x":38,"y":42},{"p":9,"x":39,"y":39},{"p":9,"x":40,"y":40},{"p":9,"x":41,"y":41.5},{"p":9,"x":42,"y":43},{"p":9,"x":43,"y":42},{"p":9,"x":44,"y":46},{"p":9,"x":45,"y":44},{"p":9,"x":46,"y":47},{"p":9,"x":48,"y":48},{"p":9,"x":49,"y":51},{"p":9,"x":50,"y":50},{"p":9,"x":51,"y":47},{"p":9,"x":52,"y":51},{"p":9,"x":53,"y":53},{"p":9,"x":54,"y":55},{"p":9,"x":56,"y":56},{"p":9,"x":58,"y":58},{"p":9,"x":63,"y":57},
{"p":10,"x":2,"y":6},{"p":10,"x":3,"y":4.5},{"p":10,"x":3.5,"y":5.5},{"p":10,"x":4,"y":5},{"p":10,"x":4,"y":4},{"p":10,"x":4.5,"y":6},{"p":10,"x":5,"y":5},{"p":10,"x":5,"y":3.5},{"p":10,"x":5.5,"y":6.5},{"p":10,"x":6,"y":5.5},{"p":10,"x":6,"y":7},{"p":10,"x":6.5,"y":6},{"p":10,"x":7,"y":7.5},{"p":10,"x":7,"y":6.5},{"p":10,"x":7.5,"y":8.5},{"p":10,"x":8,"y":8},{"p":10,"x":8,"y":9.5},{"p":10,"x":8.5,"y":7.5},{"p":10,"x":9,"y":10},{"p":10,"x":9,"y":8.5},{"p":10,"x":9.5,"y":11},{"p":10,"x":10,"y":9.5},{"p":10,"x":10,"y":11.5},{"p":10,"x":10.5,"y":10},{"p":10,"x":11,"y":12},{"p":10,"x":11,"y":9.5},{"p":10,"x":11.5,"y":11.5},{"p":10,"x":12,"y":12.5},{"p":10,"x":12.5,"y":14},{"p":10,"x":13,"y":13},{"p":10,"x":13.5,"y":15},{"p":10,"x":14,"y":14.5},{"p":10,"x":15,"y":13.5},{"p":10,"x":15.5,"y":16},{"p":10,"x":16,"y":15},{"p":10,"x":17,"y":18},{"p":10,"x":17.5,"y":15},{"p":10,"x":18,"y":20},{"p":10,"x":19,"y":18},{"p":10,"x":20,"y":20},{"p":10,"x":21,"y":20.5},{"p":10,"x":22,"y":23},{"p":10,"x":22.5,"y":27},{"p":10,"x":23,"y":22},{"p":10,"x":24,"y":21.5},{"p":10,"x":25.5,"y":25.5},{"p":10,"x":27,"y":26},{"p":10,"x":31.5,"y":24.5},
{"p":11,"x":1,"y":1},{"p":11,"x":2,"y":1.5},{"p":11,"x":3,"y":3},{"p":11,"x":4,"y":4},{"p":11,"x":5,"y":5},{"p":11,"x":6,"y":5.5},{"p":11,"x":7,"y":7},{"p":11,"x":8,"y":8},{"p":11,"x":9,"y":9},{"p":11,"x":10,"y":10},{"p":11,"x":11,"y":10.5},{"p":11,"x":12,"y":12},{"p":11,"x":13,"y":13.5},{"p":11,"x":14,"y":14},{"p":11,"x":15,"y":15},{"p":11,"x":16,"y":16},{"p":11,"x":17,"y":18},{"p":11,"x":18,"y":17},{"p":11,"x":19,"y":19.5},{"p":11,"x":20,"y":21},{"p":11,"x":21,"y":20},{"p":11,"x":22,"y":22},{"p":11,"x":23,"y":24},{"p":11,"x":24,"y":23},{"p":11,"x":25,"y":26},{"p":11,"x":26,"y":25},{"p":11,"x":27,"y":27},{"p":11,"x":28,"y":29},{"p":11,"x":29,"y":28},{"p":11,"x":30,"y":31},{"p":11,"x":31,"y":32},{"p":11,"x":32,"y":31},{"p":11,"x":33,"y":34},{"p":11,"x":34,"y":33},{"p":11,"x":35,"y":36},{"p":11,"x":36,"y":35},{"p":11,"x":38,"y":38},{"p":11,"x":40,"y":41},{"p":11,"x":42,"y":43},{"p":11,"x":44,"y":43},{"p":11,"x":46,"y":47},{"p":11,"x":48,"y":49},{"p":11,"x":50,"y":51},{"p":11,"x":52,"y":53},{"p":11,"x":54,"y":55},{"p":11,"x":56,"y":56},{"p":11,"x":58,"y":58},{"p":11,"x":60,"y":60},{"p":11,"x":62,"y":61},{"p":11,"x":64,"y":64},{"p":11,"x":66,"y":63},{"p":11,"x":71,"y":65},
{"p":12,"x":0.3,"y":0.5},{"p":12,"x":0.5,"y":1},{"p":12,"x":1,"y":0.5},{"p":12,"x":1,"y":1.5},{"p":12,"x":1.5,"y":1},{"p":12,"x":1.5,"y":2},{"p":12,"x":2,"y":2.5},{"p":12,"x":2,"y":1.5},{"p":12,"x":2.5,"y":2},{"p":12,"x":2.5,"y":3},{"p":12,"x":3,"y":3.5},{"p":12,"x":3,"y":2.5},{"p":12,"x":3.5,"y":4},{"p":12,"x":3.5,"y":3},{"p":12,"x":4,"y":4.5},{"p":12,"x":4,"y":5.5},{"p":12,"x":4.5,"y":4},{"p":12,"x":4.5,"y":5},{"p":12,"x":5,"y":5.5},{"p":12,"x":5,"y":6.5},{"p":12,"x":5.5,"y":6},{"p":12,"x":6,"y":7},{"p":12,"x":6,"y":6},{"p":12,"x":6.5,"y":7.5},{"p":12,"x":7,"y":8},{"p":12,"x":7,"y":6.5},{"p":12,"x":7.5,"y":7.5},{"p":12,"x":8,"y":9},{"p":12,"x":8.5,"y":11},{"p":12,"x":9,"y":10},{"p":12,"x":10,"y":11},{"p":12,"x":10.5,"y":12},{"p":12,"x":11,"y":12.5},{"p":12,"x":11.5,"y":15.5},{"p":12,"x":12,"y":11},{"p":12,"x":12.5,"y":13},{"p":12,"x":13,"y":12},{"p":12,"x":14,"y":14},{"p":12,"x":15,"y":15},{"p":12,"x":16,"y":16},{"p":12,"x":16.5,"y":14.5},{"p":12,"x":17,"y":17},{"p":12,"x":18,"y":20},{"p":12,"x":19,"y":18},{"p":12,"x":20,"y":25},{"p":12,"x":21,"y":22.5},{"p":12,"x":22,"y":21},{"p":12,"x":23,"y":22},{"p":12,"x":25,"y":23.5},{"p":12,"x":26,"y":25},{"p":12,"x":28,"y":27.5},{"p":12,"x":35,"y":33},
{"p":13,"x":1.3,"y":3},{"p":13,"x":2,"y":3.5},{"p":13,"x":3,"y":4},{"p":13,"x":4,"y":4.5},{"p":13,"x":4.5,"y":3.5},{"p":13,"x":5,"y":5},{"p":13,"x":5.5,"y":6},{"p":13,"x":6,"y":5.5},{"p":13,"x":6.5,"y":7},{"p":13,"x":7,"y":6.5},{"p":13,"x":7.5,"y":8},{"p":13,"x":8,"y":7.5},{"p":13,"x":8,"y":9.5},{"p":13,"x":8.5,"y":8.5},{"p":13,"x":9,"y":10},{"p":13,"x":9.5,"y":9},{"p":13,"x":10,"y":11},{"p":13,"x":10.5,"y":10},{"p":13,"x":11,"y":12},{"p":13,"x":11,"y":10.5},{"p":13,"x":11.5,"y":12.5},{"p":13,"x":12,"y":11.5},{"p":13,"x":12.5,"y":13.5},{"p":13,"x":13,"y":12.5},{"p":13,"x":13.5,"y":15},{"p":13,"x":14,"y":14},{"p":13,"x":14.5,"y":15.5},{"p":13,"x":15,"y":14.5},{"p":13,"x":15.5,"y":16},{"p":13,"x":16,"y":15},{"p":13,"x":17,"y":17.5},{"p":13,"x":18,"y":18},{"p":13,"x":18.5,"y":20},{"p":13,"x":19,"y":18.5},{"p":13,"x":19.5,"y":14.5},{"p":13,"x":20,"y":20},{"p":13,"x":21,"y":21},{"p":13,"x":22,"y":22},{"p":13,"x":23,"y":22.5},{"p":13,"x":24,"y":21.5},{"p":13,"x":25,"y":26.5},{"p":13,"x":26,"y":27},{"p":13,"x":27,"y":27},{"p":13,"x":28,"y":29},{"p":13,"x":29,"y":26.5},{"p":13,"x":30,"y":28},{"p":13,"x":31,"y":30},{"p":13,"x":33,"y":27.5},{"p":13,"x":36,"y":30.5},{"p":13,"x":42.5,"y":38},
{"p":14,"x":1,"y":3},{"p":14,"x":2,"y":3.5},{"p":14,"x":2.5,"y":2.5},{"p":14,"x":3,"y":4},{"p":14,"x":3.5,"y":3},{"p":14,"x":4,"y":4.5},{"p":14,"x":4.5,"y":3.5},{"p":14,"x":5,"y":5},{"p":14,"x":5.5,"y":4.5},{"p":14,"x":6,"y":6},{"p":14,"x":6.5,"y":5.5},{"p":14,"x":7,"y":7},{"p":14,"x":7,"y":8.5},{"p":14,"x":7.5,"y":7.5},{"p":14,"x":8,"y":9},{"p":14,"x":8.5,"y":8},{"p":14,"x":9,"y":10},{"p":14,"x":9,"y":9},{"p":14,"x":9.5,"y":11},{"p":14,"x":10,"y":10},{"p":14,"x":10,"y":12},{"p":14,"x":10.5,"y":11},{"p":14,"x":11,"y":12.5},{"p":14,"x":11.5,"y":11},{"p":14,"x":12,"y":13},{"p":14,"x":12,"y":16},{"p":14,"x":12.5,"y":12},{"p":14,"x":13,"y":14},{"p":14,"x":13.5,"y":13},{"p":14,"x":14,"y":15},{"p":14,"x":14.5,"y":14},{"p":14,"x":15,"y":16},{"p":14,"x":15.5,"y":14.5},{"p":14,"x":16,"y":17},{"p":14,"x":17,"y":16},{"p":14,"x":18,"y":18.5},{"p":14,"x":19,"y":19},{"p":14,"x":20,"y":20},{"p":14,"x":21,"y":21},{"p":14,"x":22,"y":20},{"p":14,"x":23,"y":22},{"p":14,"x":23.5,"y":21},{"p":14,"x":24,"y":18.5},{"p":14,"x":25,"y":24},{"p":14,"x":27,"y":24},{"p":14,"x":28,"y":23},{"p":14,"x":30,"y":30},{"p":14,"x":32.5,"y":31.5},{"p":14,"x":36,"y":33},{"p":14,"x":45,"y":39},
{"p":15,"x":19,"y":27},{"p":15,"x":22,"y":28},{"p":15,"x":25,"y":26},{"p":15,"x":27,"y":31},{"p":15,"x":29,"y":30},{"p":15,"x":31,"y":32},{"p":15,"x":33,"y":36},{"p":15,"x":35,"y":34},{"p":15,"x":37,"y":38},{"p":15,"x":39,"y":39},{"p":15,"x":41,"y":41},{"p":15,"x":43,"y":44},{"p":15,"x":44,"y":46},{"p":15,"x":46,"y":45},{"p":15,"x":48,"y":48},{"p":15,"x":50,"y":50},{"p":15,"x":51,"y":52},{"p":15,"x":53,"y":52},{"p":15,"x":55,"y":55},{"p":15,"x":56,"y":57},{"p":15,"x":58,"y":58},{"p":15,"x":59,"y":61},{"p":15,"x":60,"y":59},{"p":15,"x":62,"y":63},{"p":15,"x":63,"y":65},{"p":15,"x":65,"y":64},{"p":15,"x":66,"y":68},{"p":15,"x":68,"y":67},{"p":15,"x":69,"y":70},{"p":15,"x":71,"y":71},{"p":15,"x":72,"y":74},{"p":15,"x":74,"y":73},{"p":15,"x":75,"y":76},{"p":15,"x":77,"y":78},{"p":15,"x":78,"y":77},{"p":15,"x":80,"y":80},{"p":15,"x":81,"y":83},{"p":15,"x":83,"y":82},{"p":15,"x":84,"y":85},{"p":15,"x":85,"y":84},{"p":15,"x":86,"y":87},{"p":15,"x":88,"y":88},{"p":15,"x":89,"y":90},{"p":15,"x":90,"y":89},{"p":15,"x":91,"y":92},{"p":15,"x":92,"y":91},{"p":15,"x":93,"y":94},{"p":15,"x":94,"y":93},{"p":15,"x":95,"y":96},{"p":15,"x":96,"y":95},{"p":15,"x":97,"y":97},
{"p":16,"x":0.5,"y":2},{"p":16,"x":0.8,"y":0.5},{"p":16,"x":1,"y":1},{"p":16,"x":1.2,"y":1.8},{"p":16,"x":1.5,"y":1.2},{"p":16,"x":1.8,"y":2.2},{"p":16,"x":2,"y":1.5},{"p":16,"x":2,"y":2.8},{"p":16,"x":2.5,"y":2},{"p":16,"x":2.5,"y":3},{"p":16,"x":3,"y":2.5},{"p":16,"x":3,"y":3.5},{"p":16,"x":3.5,"y":3},{"p":16,"x":3.5,"y":4.2},{"p":16,"x":4,"y":3.5},{"p":16,"x":4,"y":4.5},{"p":16,"x":4.5,"y":4},{"p":16,"x":4.5,"y":5.2},{"p":16,"x":5,"y":4.5},{"p":16,"x":5,"y":5.5},{"p":16,"x":5.5,"y":5},{"p":16,"x":5.5,"y":6},{"p":16,"x":6,"y":5.5},{"p":16,"x":6,"y":6.5},{"p":16,"x":6.5,"y":6},{"p":16,"x":7,"y":7},{"p":16,"x":7.5,"y":7.5},{"p":16,"x":8,"y":8.5},{"p":16,"x":8.5,"y":8},{"p":16,"x":9,"y":9.5},{"p":16,"x":10,"y":10},{"p":16,"x":10.5,"y":11},{"p":16,"x":11,"y":10.5},{"p":16,"x":12,"y":12.5},{"p":16,"x":12,"y":14.5},{"p":16,"x":13,"y":16},{"p":16,"x":14,"y":15},{"p":16,"x":15,"y":13},{"p":16,"x":16,"y":17},{"p":16,"x":17,"y":18.5},{"p":16,"x":18,"y":17.5},{"p":16,"x":19.5,"y":19},{"p":16,"x":21,"y":18.5},{"p":16,"x":22,"y":18.5},{"p":16,"x":24,"y":23.5},{"p":16,"x":26.5,"y":26.5},{"p":16,"x":31,"y":29.5},{"p":16,"x":42.5,"y":34.5},
{"p":17,"x":0.3,"y":0.5},{"p":17,"x":0.5,"y":1},{"p":17,"x":0.8,"y":0.3},{"p":17,"x":1,"y":1.2},{"p":17,"x":1.2,"y":0.8},{"p":17,"x":1.5,"y":1.5},{"p":17,"x":1.8,"y":1.2},{"p":17,"x":2,"y":2},{"p":17,"x":2.2,"y":1.8},{"p":17,"x":2.5,"y":2.5},{"p":17,"x":2.8,"y":2.2},{"p":17,"x":3,"y":3},{"p":17,"x":3.2,"y":2.8},{"p":17,"x":3.5,"y":3.5},{"p":17,"x":3.8,"y":3.2},{"p":17,"x":4,"y":4},{"p":17,"x":4.2,"y":4.5},{"p":17,"x":4.5,"y":4},{"p":17,"x":4.8,"y":5},{"p":17,"x":5,"y":4.5},{"p":17,"x":5.2,"y":5.5},{"p":17,"x":5.5,"y":5},{"p":17,"x":5.8,"y":6},{"p":17,"x":6,"y":5.5},{"p":17,"x":6.2,"y":6.5},{"p":17,"x":6.5,"y":6},{"p":17,"x":7,"y":7},{"p":17,"x":7.5,"y":7.5},{"p":17,"x":8,"y":8},{"p":17,"x":8.5,"y":8.5},{"p":17,"x":9,"y":9.5},{"p":17,"x":9.5,"y":9},{"p":17,"x":10,"y":10},{"p":17,"x":11,"y":10.5},{"p":17,"x":11.5,"y":13},{"p":17,"x":12,"y":14.5},{"p":17,"x":13,"y":14},{"p":17,"x":14,"y":12},{"p":17,"x":15,"y":18},{"p":17,"x":16,"y":15},{"p":17,"x":17,"y":18},{"p":17,"x":18,"y":17.5},{"p":17,"x":20,"y":19},{"p":17,"x":21.5,"y":24.5},{"p":17,"x":23,"y":21.5},{"p":17,"x":24.5,"y":25},{"p":17,"x":26.5,"y":26},{"p":17,"x":29,"y":25.5},{"p":17,"x":32,"y":28.5},{"p":17,"x":37.5,"y":34.5},{"p":17,"x":51,"y":42},
{"p":18,"x":0.5,"y":0.5},{"p":18,"x":1,"y":1.5},{"p":18,"x":1.5,"y":1},{"p":18,"x":2,"y":2},{"p":18,"x":2.5,"y":3},{"p":18,"x":3,"y":2.5},{"p":18,"x":3.5,"y":4},{"p":18,"x":4,"y":3.5},{"p":18,"x":4.5,"y":5},{"p":18,"x":5,"y":4.5},{"p":18,"x":5.5,"y":6},{"p":18,"x":6,"y":5.5},{"p":18,"x":6.5,"y":7},{"p":18,"x":7,"y":6.5},{"p":18,"x":7.5,"y":8.5},{"p":18,"x":8,"y":7.5},{"p":18,"x":9,"y":9.5},{"p":18,"x":10,"y":10},{"p":18,"x":11,"y":11.5},{"p":18,"x":12,"y":12},{"p":18,"x":13,"y":13.5},{"p":18,"x":14,"y":14},{"p":18,"x":15,"y":15.5},{"p":18,"x":16,"y":16},{"p":18,"x":18,"y":18},{"p":18,"x":19,"y":19},{"p":18,"x":20,"y":21},{"p":18,"x":21,"y":20},{"p":18,"x":22,"y":22},{"p":18,"x":23,"y":23},{"p":18,"x":24,"y":25},{"p":18,"x":26,"y":24},{"p":18,"x":28,"y":29},{"p":18,"x":29,"y":31},{"p":18,"x":30,"y":36},{"p":18,"x":32,"y":32},{"p":18,"x":33,"y":35},{"p":18,"x":35,"y":38},{"p":18,"x":37,"y":37},{"p":18,"x":39,"y":42},{"p":18,"x":41,"y":42},{"p":18,"x":43,"y":40},{"p":18,"x":45,"y":46},{"p":18,"x":47,"y":45},{"p":18,"x":50,"y":50},{"p":18,"x":52,"y":52},{"p":18,"x":55,"y":51},{"p":18,"x":57,"y":51},{"p":18,"x":60,"y":59},{"p":18,"x":62,"y":61},{"p":18,"x":65,"y":65},{"p":18,"x":71,"y":71},{"p":18,"x":77,"y":75},{"p":18,"x":86,"y":81},
{"p":19,"x":0.5,"y":0.5},{"p":19,"x":1,"y":1.5},{"p":19,"x":2,"y":1.5},{"p":19,"x":2.5,"y":3},{"p":19,"x":3,"y":2.5},{"p":19,"x":3.5,"y":4},{"p":19,"x":4,"y":3.5},{"p":19,"x":5,"y":5},{"p":19,"x":5.5,"y":6},{"p":19,"x":6,"y":5.5},{"p":19,"x":7,"y":7},{"p":19,"x":8,"y":8},{"p":19,"x":9,"y":9.5},{"p":19,"x":10,"y":10},{"p":19,"x":11,"y":11},{"p":19,"x":12,"y":12.5},{"p":19,"x":13,"y":13},{"p":19,"x":14,"y":14},{"p":19,"x":15,"y":15},{"p":19,"x":16,"y":16.5},{"p":19,"x":17,"y":17},{"p":19,"x":18,"y":18.5},{"p":19,"x":19,"y":19},{"p":19,"x":20,"y":20},{"p":19,"x":22,"y":22},{"p":19,"x":23,"y":24},{"p":19,"x":24,"y":23},{"p":19,"x":26,"y":26},{"p":19,"x":28,"y":29},{"p":19,"x":29,"y":28},{"p":19,"x":30,"y":30},{"p":19,"x":32,"y":32},{"p":19,"x":34,"y":33},{"p":19,"x":36,"y":36},{"p":19,"x":38,"y":39},{"p":19,"x":40,"y":40},{"p":19,"x":42,"y":42},{"p":19,"x":44,"y":45},{"p":19,"x":46,"y":46},{"p":19,"x":48,"y":48},{"p":19,"x":50,"y":50},{"p":19,"x":53,"y":53},{"p":19,"x":56,"y":56},{"p":19,"x":60,"y":60},{"p":19,"x":62,"y":60},{"p":19,"x":64,"y":64},{"p":19,"x":66,"y":67},{"p":19,"x":68,"y":66},{"p":19,"x":72,"y":72},{"p":19,"x":77,"y":76},{"p":19,"x":80,"y":80},{"p":19,"x":88,"y":86},
{"p":20,"x":17,"y":20},{"p":20,"x":22,"y":27},{"p":20,"x":24,"y":30},{"p":20,"x":26,"y":32},{"p":20,"x":29,"y":34},{"p":20,"x":31,"y":36},{"p":20,"x":33,"y":38},{"p":20,"x":35,"y":39},{"p":20,"x":37,"y":40},{"p":20,"x":39,"y":42},{"p":20,"x":41,"y":43},{"p":20,"x":43,"y":45},{"p":20,"x":45,"y":48},{"p":20,"x":47,"y":47},{"p":20,"x":49,"y":50},{"p":20,"x":51,"y":52},{"p":20,"x":53,"y":53},{"p":20,"x":55,"y":56},{"p":20,"x":57,"y":56},{"p":20,"x":59,"y":60},{"p":20,"x":61,"y":62},{"p":20,"x":63,"y":63},{"p":20,"x":65,"y":65},{"p":20,"x":66,"y":68},{"p":20,"x":68,"y":67},{"p":20,"x":70,"y":71},{"p":20,"x":71,"y":70},{"p":20,"x":73,"y":73},{"p":20,"x":74,"y":75},{"p":20,"x":76,"y":76},{"p":20,"x":77,"y":78},{"p":20,"x":78,"y":77},{"p":20,"x":80,"y":80},{"p":20,"x":81,"y":81},{"p":20,"x":82,"y":83},{"p":20,"x":83,"y":82},{"p":20,"x":84,"y":85},{"p":20,"x":85,"y":84},{"p":20,"x":86,"y":87},{"p":20,"x":87,"y":86},{"p":20,"x":88,"y":88},{"p":20,"x":89,"y":90},{"p":20,"x":90,"y":89},{"p":20,"x":91,"y":91},{"p":20,"x":92,"y":93},{"p":20,"x":93,"y":92},{"p":20,"x":94,"y":94},{"p":20,"x":95,"y":95},{"p":20,"x":96,"y":96},
{"p":21,"x":2,"y":3},{"p":21,"x":3,"y":4},{"p":21,"x":4,"y":6},{"p":21,"x":5,"y":7},{"p":21,"x":6,"y":8},{"p":21,"x":7,"y":9},{"p":21,"x":8,"y":10},{"p":21,"x":9,"y":11},{"p":21,"x":10,"y":10},{"p":21,"x":11,"y":11},{"p":21,"x":12,"y":12},{"p":21,"x":13,"y":12},{"p":21,"x":14,"y":13},{"p":21,"x":15,"y":14},{"p":21,"x":16,"y":15},{"p":21,"x":17,"y":16},{"p":21,"x":18,"y":15},{"p":21,"x":19,"y":17},{"p":21,"x":20,"y":17},{"p":21,"x":21,"y":19},{"p":21,"x":22,"y":21},{"p":21,"x":24,"y":23},{"p":21,"x":25,"y":25},{"p":21,"x":26,"y":26},{"p":21,"x":28,"y":23},{"p":21,"x":29,"y":28},{"p":21,"x":30,"y":30},{"p":21,"x":31,"y":32},{"p":21,"x":32,"y":34},{"p":21,"x":33,"y":37},{"p":21,"x":34,"y":36},{"p":21,"x":35,"y":38},{"p":21,"x":36,"y":40},{"p":21,"x":37,"y":41},{"p":21,"x":38,"y":43},{"p":21,"x":39,"y":44},{"p":21,"x":40,"y":46},{"p":21,"x":41,"y":45},{"p":21,"x":42,"y":47},{"p":21,"x":43,"y":49},{"p":21,"x":44,"y":50},{"p":21,"x":45,"y":48},{"p":21,"x":47,"y":51},{"p":21,"x":48,"y":52},{"p":21,"x":50,"y":50},{"p":21,"x":52,"y":56},{"p":21,"x":53,"y":54},{"p":21,"x":54,"y":57},{"p":21,"x":56,"y":55},{"p":21,"x":58,"y":57},{"p":21,"x":59,"y":59},{"p":21,"x":60,"y":61},{"p":21,"x":62,"y":60},{"p":21,"x":63,"y":63},{"p":21,"x":65,"y":65},{"p":21,"x":67,"y":66},{"p":21,"x":70,"y":68},{"p":21,"x":75,"y":70},
{"p":22,"x":15,"y":14},{"p":22,"x":18,"y":24},{"p":22,"x":21,"y":27},{"p":22,"x":24,"y":29},{"p":22,"x":27,"y":31},{"p":22,"x":30,"y":33},{"p":22,"x":33,"y":36},{"p":22,"x":36,"y":38},{"p":22,"x":38,"y":42},{"p":22,"x":40,"y":43},{"p":22,"x":42,"y":42},{"p":22,"x":44,"y":44},{"p":22,"x":45,"y":47},{"p":22,"x":47,"y":46},{"p":22,"x":48,"y":49},{"p":22,"x":50,"y":50},{"p":22,"x":51,"y":52},{"p":22,"x":52,"y":51},{"p":22,"x":53,"y":54},{"p":22,"x":54,"y":53},{"p":22,"x":55,"y":56},{"p":22,"x":56,"y":55},{"p":22,"x":57,"y":58},{"p":22,"x":58,"y":57},{"p":22,"x":59,"y":60},{"p":22,"x":60,"y":59},{"p":22,"x":61,"y":62},{"p":22,"x":62,"y":61},{"p":22,"x":63,"y":64},{"p":22,"x":64,"y":63},{"p":22,"x":66,"y":66},{"p":22,"x":67,"y":68},{"p":22,"x":68,"y":67},{"p":22,"x":70,"y":70},{"p":22,"x":71,"y":72},{"p":22,"x":72,"y":71},{"p":22,"x":74,"y":74},{"p":22,"x":75,"y":76},{"p":22,"x":76,"y":75},{"p":22,"x":78,"y":78},{"p":22,"x":79,"y":80},{"p":22,"x":80,"y":79},{"p":22,"x":82,"y":82},{"p":22,"x":83,"y":84},{"p":22,"x":84,"y":83},{"p":22,"x":86,"y":86},{"p":22,"x":87,"y":87},{"p":22,"x":88,"y":89},{"p":22,"x":90,"y":89},
{"p":23,"x":14,"y":14},{"p":23,"x":16,"y":17},{"p":23,"x":18,"y":16},{"p":23,"x":19,"y":20},{"p":23,"x":20,"y":22},{"p":23,"x":21,"y":20},{"p":23,"x":22,"y":23},{"p":23,"x":23,"y":22},{"p":23,"x":24,"y":25},{"p":23,"x":25,"y":24},{"p":23,"x":26,"y":27},{"p":23,"x":27,"y":26},{"p":23,"x":28,"y":29},{"p":23,"x":29,"y":28},{"p":23,"x":30,"y":31},{"p":23,"x":31,"y":30},{"p":23,"x":32,"y":33},{"p":23,"x":33,"y":35},{"p":23,"x":34,"y":33},{"p":23,"x":35,"y":36},{"p":23,"x":36,"y":35},{"p":23,"x":37,"y":38},{"p":23,"x":38,"y":37},{"p":23,"x":39,"y":40},{"p":23,"x":40,"y":39},{"p":23,"x":41,"y":42},{"p":23,"x":42,"y":41},{"p":23,"x":43,"y":44},{"p":23,"x":44,"y":43},{"p":23,"x":45,"y":46},{"p":23,"x":46,"y":45},{"p":23,"x":48,"y":48},{"p":23,"x":50,"y":50},{"p":23,"x":51,"y":52},{"p":23,"x":53,"y":52},{"p":23,"x":55,"y":55},{"p":23,"x":56,"y":58},{"p":23,"x":58,"y":57},{"p":23,"x":60,"y":60},{"p":23,"x":62,"y":61},{"p":23,"x":64,"y":63},{"p":23,"x":66,"y":66},{"p":23,"x":68,"y":70},{"p":23,"x":70,"y":72},{"p":23,"x":72,"y":74},{"p":23,"x":76,"y":78},{"p":23,"x":78,"y":80},{"p":23,"x":81,"y":80},{"p":23,"x":86,"y":84},
{"p":24,"x":15,"y":15},{"p":24,"x":17,"y":18},{"p":24,"x":18,"y":17},{"p":24,"x":20,"y":21},{"p":24,"x":21,"y":20},{"p":24,"x":22,"y":23},{"p":24,"x":24,"y":24},{"p":24,"x":25,"y":27},{"p":24,"x":26,"y":25},{"p":24,"x":27,"y":28},{"p":24,"x":28,"y":27},{"p":24,"x":29,"y":30},{"p":24,"x":30,"y":29},{"p":24,"x":31,"y":32},{"p":24,"x":32,"y":31},{"p":24,"x":33,"y":34},{"p":24,"x":34,"y":33},{"p":24,"x":35,"y":36},{"p":24,"x":36,"y":35},{"p":24,"x":37,"y":38},{"p":24,"x":38,"y":37},{"p":24,"x":39,"y":40},{"p":24,"x":40,"y":39},{"p":24,"x":41,"y":42},{"p":24,"x":42,"y":41},{"p":24,"x":43,"y":44},{"p":24,"x":44,"y":45},{"p":24,"x":45,"y":46},{"p":24,"x":46,"y":45},{"p":24,"x":48,"y":48},{"p":24,"x":50,"y":50},{"p":24,"x":52,"y":53},{"p":24,"x":54,"y":55},{"p":24,"x":55,"y":53},{"p":24,"x":56,"y":58},{"p":24,"x":58,"y":57},{"p":24,"x":60,"y":61},{"p":24,"x":62,"y":60},{"p":24,"x":63,"y":64},{"p":24,"x":65,"y":66},{"p":24,"x":67,"y":65},{"p":24,"x":70,"y":72},{"p":24,"x":72,"y":74},{"p":24,"x":75,"y":76},{"p":24,"x":78,"y":79},{"p":24,"x":80,"y":80},{"p":24,"x":85,"y":82},
{"p":25,"x":1,"y":5.5},{"p":25,"x":2,"y":3},{"p":25,"x":2.5,"y":4},{"p":25,"x":3,"y":3.5},{"p":25,"x":3.5,"y":5},{"p":25,"x":4,"y":4.5},{"p":25,"x":4.5,"y":3.5},{"p":25,"x":5,"y":5.5},{"p":25,"x":5.5,"y":6},{"p":25,"x":6,"y":5},{"p":25,"x":6.5,"y":7},{"p":25,"x":7,"y":6.5},{"p":25,"x":7.5,"y":8.5},{"p":25,"x":8,"y":7.5},{"p":25,"x":8.5,"y":9},{"p":25,"x":9,"y":10.5},{"p":25,"x":9.5,"y":9},{"p":25,"x":10,"y":11},{"p":25,"x":10.5,"y":12.5},{"p":25,"x":11,"y":10.5},{"p":25,"x":11.5,"y":13},{"p":25,"x":12,"y":12},{"p":25,"x":12.5,"y":14.5},{"p":25,"x":13,"y":13},{"p":25,"x":13.5,"y":15},{"p":25,"x":14,"y":14},{"p":25,"x":14.5,"y":16},{"p":25,"x":15,"y":15},{"p":25,"x":16,"y":14.5},{"p":25,"x":17,"y":16.5},{"p":25,"x":18,"y":18},{"p":25,"x":19,"y":17},{"p":25,"x":20,"y":20},{"p":25,"x":21,"y":20},{"p":25,"x":22,"y":22},{"p":25,"x":23,"y":21.5},{"p":25,"x":24,"y":24},{"p":25,"x":25,"y":26},{"p":25,"x":26,"y":27},{"p":25,"x":27,"y":25.5},{"p":25,"x":28,"y":28.5},{"p":25,"x":29,"y":27},{"p":25,"x":30,"y":30},{"p":25,"x":32,"y":31},{"p":25,"x":33,"y":29.5},{"p":25,"x":35,"y":33},{"p":25,"x":37,"y":35.5},{"p":25,"x":38.5,"y":30.5},
{"p":26,"x":0.5,"y":0.5},{"p":26,"x":1,"y":1.5},{"p":26,"x":2,"y":1.5},{"p":26,"x":2.5,"y":3},{"p":26,"x":3,"y":2.5},{"p":26,"x":4,"y":4},{"p":26,"x":5,"y":5},{"p":26,"x":5.5,"y":6},{"p":26,"x":6,"y":5.5},{"p":26,"x":7,"y":7},{"p":26,"x":8,"y":8},{"p":26,"x":9,"y":9.5},{"p":26,"x":10,"y":10},{"p":26,"x":11,"y":11},{"p":26,"x":12,"y":12.5},{"p":26,"x":13,"y":13},{"p":26,"x":14,"y":14},{"p":26,"x":15,"y":15.5},{"p":26,"x":16,"y":16},{"p":26,"x":17,"y":17},{"p":26,"x":18,"y":18.5},{"p":26,"x":19,"y":19},{"p":26,"x":20,"y":20},{"p":26,"x":21,"y":21.5},{"p":26,"x":22,"y":22},{"p":26,"x":24,"y":24},{"p":26,"x":25,"y":26},{"p":26,"x":27,"y":27},{"p":26,"x":29,"y":29},{"p":26,"x":30,"y":30},{"p":26,"x":32,"y":33},{"p":26,"x":34,"y":34},{"p":26,"x":36,"y":36},{"p":26,"x":38,"y":38},{"p":26,"x":40,"y":40},{"p":26,"x":42,"y":43},{"p":26,"x":44,"y":44},{"p":26,"x":47,"y":47},{"p":26,"x":50,"y":50},{"p":26,"x":53,"y":54},{"p":26,"x":56,"y":55},{"p":26,"x":60,"y":60},{"p":26,"x":63,"y":62},{"p":26,"x":66,"y":66},{"p":26,"x":70,"y":69},{"p":26,"x":74,"y":74},{"p":26,"x":78,"y":76},{"p":26,"x":87,"y":80}
]},
"config":{
"font":"Liberation Sans",
"view":{"stroke":"#333","strokeWidth":1,"continuousWidth":172,"continuousHeight":172},
"title":{"fontSize":16,"fontWeight":"bold","font":"Liberation Sans","color":"#111","lineHeight":19,"anchor":"middle","frame":"group"},
"axis":{"grid":false,"domain":false,"labelFont":"Liberation Sans","labelFontSize":16,"labelColor":"#111","tickColor":"#333","tickSize":5,"labelFlush":false,"labelOverlap":false,"labelBound":false,"titleFont":"Liberation Sans"},
"axisBottom":{"labelPadding":4},
"axisLeft":{"labelAngle":-90,"labelAlign":"center","labelBaseline":"bottom","labelPadding":3},
"point":{"shape":"M-1,0L1,0M0,-1L0,1","filled":false,"size":50,"strokeWidth":1.4,"color":"#1b5ca8","opacity":1}
}
}
